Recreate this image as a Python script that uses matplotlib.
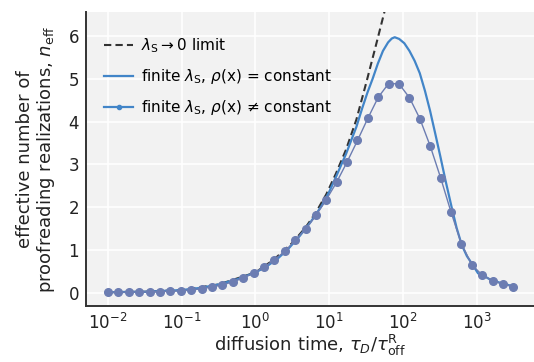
import numpy as np
import matplotlib
matplotlib.use("Agg")
import matplotlib.pyplot as plt
from matplotlib.lines import Line2D

# measured points, rho(x) != constant (log-spaced grid)
tau_dots = np.logspace(-2, 3.5, 40)
n_dots = [0.02, 0.02, 0.02, 0.025, 0.03, 0.035, 0.04, 0.05, 0.07, 0.10,
          0.14, 0.19, 0.26, 0.35, 0.47, 0.60, 0.78, 0.97, 1.23, 1.49,
          1.81, 2.18, 2.59, 3.06, 3.56, 4.08, 4.57, 4.89, 4.88, 4.56,
          4.07, 3.43, 2.69, 1.89, 1.15, 0.66, 0.42, 0.29, 0.21, 0.15]

# finite lambda_S, rho(x) = constant
logtau_const = [-2, -1.5, -1, -0.75, -0.5, -0.25, 0, 0.15, 0.3, 0.45, 0.6, 0.75,
                0.9, 1.0, 1.09, 1.23, 1.37, 1.45, 1.52, 1.59, 1.66, 1.73, 1.80,
                1.85, 1.89, 1.95, 2.02, 2.09, 2.16, 2.23, 2.30, 2.37, 2.44, 2.51,
                2.58, 2.66, 2.73, 2.80, 2.87, 2.94, 3.02, 3.10, 3.18, 3.30, 3.51]
n_const = [0.02, 0.03, 0.07, 0.12, 0.2, 0.32, 0.48, 0.62, 0.80, 1.04, 1.33, 1.66,
           2.04, 2.36, 2.70, 3.25, 3.88, 4.32, 4.68, 5.0, 5.35, 5.65, 5.85,
           5.94, 5.97, 5.93, 5.83, 5.65, 5.42, 5.13, 4.72, 4.25, 3.72, 3.18,
           2.62, 2.02, 1.52, 1.12, 0.86, 0.68, 0.46, 0.40, 0.32, 0.25, 0.15]

# lambda_S -> 0 limit
logtau_lim = [-2, -1.5, -1, -0.5, 0, 0.25, 0.5, 0.68, 0.82, 0.96, 1.09, 1.23,
              1.37, 1.51, 1.66, 1.80]
n_lim = [0.02, 0.03, 0.07, 0.2, 0.48, 0.78, 1.17, 1.53, 1.88, 2.30, 2.78, 3.35,
         4.05, 4.95, 5.95, 6.9]

xticks = [1e-2, 1e-1, 1e0, 1e1, 1e2, 1e3]
yticks = [0, 1, 2, 3, 4, 5, 6]

blue = "#4285c8"
dotc = "#6c7db2"
txt = "#222222"

fig = plt.figure(figsize=(5.34, 3.62), dpi=100)
ax = fig.add_axes([0.161, 0.155, 0.839, 0.812])
ax.set_facecolor("#f2f2f2")

ax.plot(10 ** np.array(logtau_lim), n_lim, ls="--", dashes=(3.5, 2), color="#333333",
        lw=1.5, zorder=3)
ax.plot(10 ** np.array(logtau_const), n_const, color=blue, lw=1.6, zorder=4)
ax.plot(tau_dots, n_dots, color=dotc, lw=1.0, marker="o", ms=5.5, zorder=5)

ax.set_xscale("log")
ax.set_xlim(10 ** -2.3, 10 ** 3.78)
ax.set_ylim(-0.3, 6.56)
ax.set_xticks(xticks)
ax.set_yticks(yticks)
ax.minorticks_off()
ax.grid(True, color="white", lw=1.2)
ax.set_axisbelow(True)
ax.tick_params(length=0, labelsize=12, pad=5, colors=txt)

for s in ["top", "right"]:
    ax.spines[s].set_visible(False)
for s in ["left", "bottom"]:
    ax.spines[s].set_color("#333333")
    ax.spines[s].set_linewidth(1.4)

ax.set_xlabel(r"diffusion time, $\tau_D/\tau_{\rm off}^{\rm R}$", fontsize=13,
              labelpad=0, color=txt)
ax.set_ylabel("effective number of\nproofreading realizations, $n_{\\rm eff}$",
              fontsize=13, labelpad=8, color=txt, linespacing=1.05)

handles = [
    Line2D([], [], ls="--", dashes=(3.5, 2), color="#333333", lw=1.5),
    Line2D([], [], color=blue, lw=1.6),
    Line2D([], [], color=blue, lw=1.6, marker="o", ms=3),
]
labels = [r"$\lambda_{\rm S}\rightarrow 0$ limit",
          r"finite $\lambda_{\rm S}$, $\rho$(x) = constant",
          r"finite $\lambda_{\rm S}$, $\rho$(x) ≠ constant"]
ax.legend(handles, labels, loc="upper left", frameon=False, fontsize=11,
          labelspacing=0.8, handlelength=1.9, handletextpad=0.5,
          bbox_to_anchor=(0.01, 0.965))

fig.savefig("out.png", dpi=100)
